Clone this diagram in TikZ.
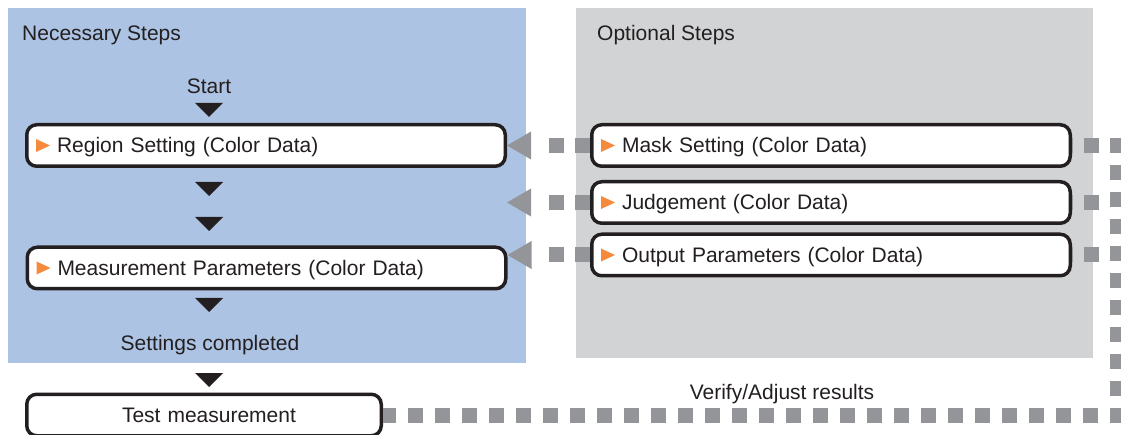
\documentclass[tikz,border=0pt]{standalone}
\usepackage{fontspec}
\setmainfont{Liberation Sans}
\definecolor{panelblue}{HTML}{ADC3E4}
\definecolor{panelgray}{HTML}{D1D3D4}
\definecolor{dashgray}{HTML}{939598}
\definecolor{markorange}{HTML}{F58A3D}
\definecolor{ink}{HTML}{231F20}
\tikzset{
  lbl/.style={font=\fontsize{21pt}{25pt}\selectfont, text=ink, inner sep=0pt},
  stepbox/.style={draw=ink, line width=3.5pt, rounded corners=10pt, fill=white,
    font=\fontsize{21pt}{25pt}\selectfont, text=ink, minimum height=41.5pt,
    text height=15pt, text depth=0pt, inner ysep=0pt, align=left,
    text width=418pt, inner xsep=30.25pt},
  testbox/.style={stepbox, align=center, text width=344.5pt, inner xsep=5pt},
  dashline/.style={draw=dashgray, line width=15pt, dash pattern=on 15pt off 11pt},
  dashlong/.style={draw=dashgray, line width=15pt, dash pattern=on 15pt off 12pt},
  flowtri/.style={fill=ink},
  marker/.style={fill=markorange},
  tipfill/.style={fill=dashgray},
}
\begin{document}
\begin{tikzpicture}[x=1pt,y=-1pt]
\useasboundingbox (0,0) rectangle (1121,435);
\clip (0,0) rectangle (1121,435);
% panels
\fill[panelblue] (8,8) rectangle (526,363);
\fill[panelgray] (576,8) rectangle (1093,358);
% panel titles
\node[lbl, anchor=base west] (nec) at (22,41) {Necessary Steps};
\node[lbl, anchor=base west] (opt) at (597,41) {Optional Steps};
% left column
\node[lbl, anchor=base] (start) at (209,94) {Start};
\node[stepbox] (region) at (266,145.5) {Region Setting (Color Data)};
\node[stepbox] (meas) at (266.5,268) {Measurement Parameters (Color Data)};
\node[lbl, anchor=base] (done) at (210,351) {Settings completed};
\node[testbox] (test) at (204,415) {\hspace*{10pt}Test measurement};
% right column
\node[stepbox] (mask) at (831,145.5) {Mask Setting (Color Data)};
\node[stepbox] (judge) at (831,202.5) {Judgement (Color Data)};
\node[stepbox] (out) at (831,255) {Output Parameters (Color Data)};
\node[lbl, anchor=base] (verify) at (782,399) {Verify/Adjust results};
% orange markers
\foreach \n in {region,meas,mask,judge,out}{
  \fill[marker] ([xshift=11pt]\n.west) ++(0,-6.5) -- ++(14,6.5) -- ++(-14,6.5) -- cycle;
}
% black flow triangles
\foreach \t in {103,182,217,298,373}{
  \fill[flowtri] (195,\t) -- (223,\t) -- (209,\t+14) -- cycle;
}
% arrows from optional steps to necessary steps
\coordinate (jtip) at (region.east |- judge.west);
\coordinate (otip) at (meas.east |- out.west);
\draw[dashline, shorten >=17pt] (mask.west) -- ([xshift=24pt]region.east);
\fill[tipfill] (region.east) -- ++(24,-14) -- ++(0,28) -- cycle;
\draw[dashline, shorten >=17pt] (judge.west) -- ([xshift=24pt]jtip);
\fill[tipfill] (jtip) -- ++(24,-14) -- ++(0,28) -- cycle;
\draw[dashline, shorten >=17pt] (out.west) -- ([xshift=24pt]otip);
\fill[tipfill] (otip) -- ++(24,-14) -- ++(0,28) -- cycle;
% feedback loop on the right
\coordinate (vtop) at (1117,138);
\coordinate (vbot) at (1117,423);
\coordinate (lx) at (1109.5,0);
\draw[dashlong] (vtop) -- (vbot);
\draw[dashline, dash phase=15pt] (mask.east -| lx) -- (mask.east);
\draw[dashline, dash phase=15pt] (judge.east -| lx) -- (judge.east);
\draw[dashline, dash phase=15pt] (out.east -| lx) -- (out.east);
\draw[dashlong, dash phase=15pt] (test.east -| lx) -- (test.east);
\end{tikzpicture}
\end{document}
